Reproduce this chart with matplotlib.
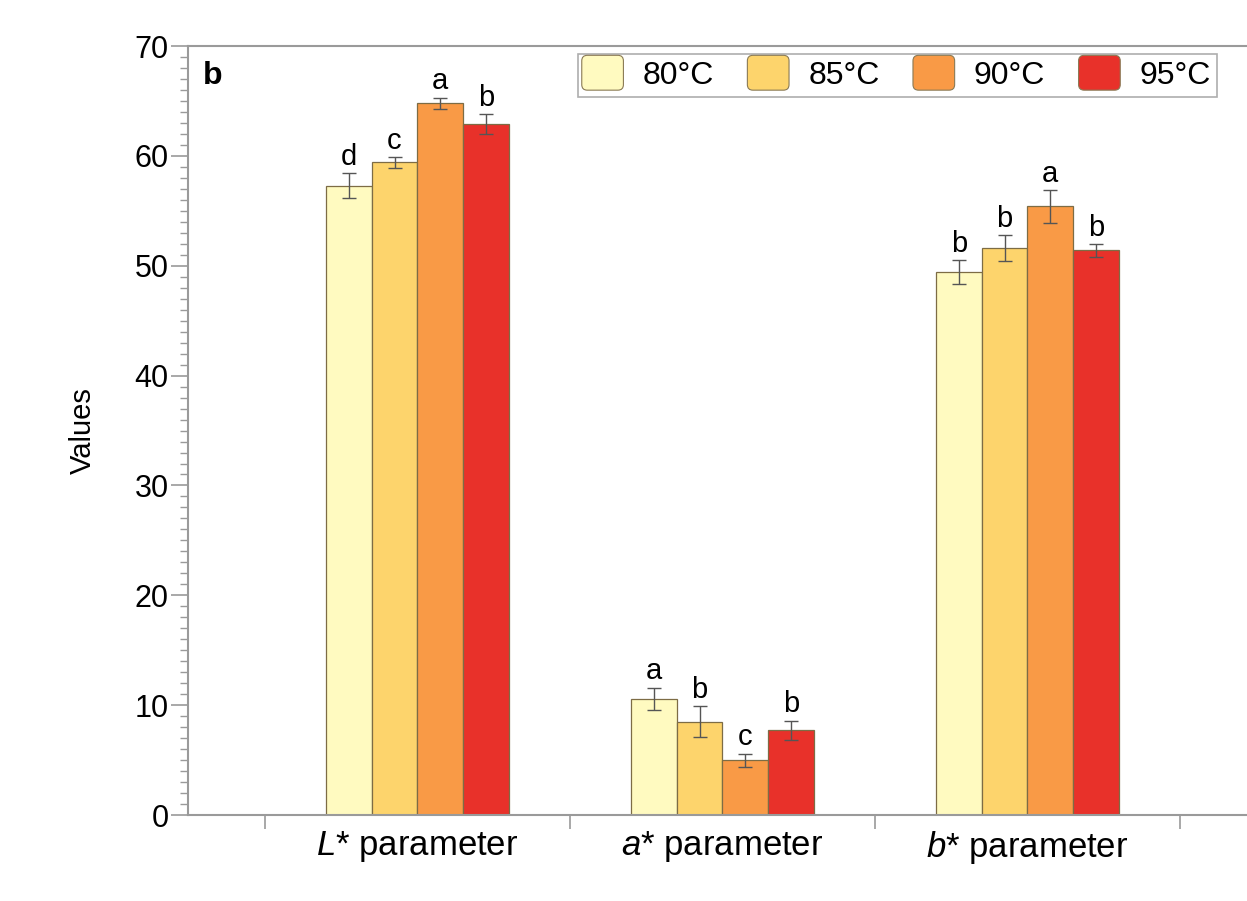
import matplotlib
matplotlib.use("Agg")
import matplotlib.pyplot as plt
import numpy as np
from matplotlib.patches import FancyBboxPatch, Patch
from matplotlib.legend_handler import HandlerPatch
from matplotlib.ticker import MultipleLocator, FixedLocator

plt.rcParams['font.family'] = ['Liberation Sans', 'DejaVu Sans']
plt.rcParams['mathtext.fontset'] = 'custom'
plt.rcParams['mathtext.rm'] = 'Liberation Sans'
plt.rcParams['mathtext.it'] = 'Liberation Sans:italic'

# data
categories = [r"$L$* parameter", r"$a$* parameter", r"$b$* parameter"]
temps = ["80°C", "85°C", "90°C", "95°C"]
values = {
    "80°C": [57.3, 10.6, 49.4],
    "85°C": [59.4, 8.5, 51.6],
    "90°C": [64.8, 5.0, 55.4],
    "95°C": [62.9, 7.7, 51.4],
}
errors = {
    "80°C": [1.1, 1.0, 1.1],
    "85°C": [0.5, 1.4, 1.2],
    "90°C": [0.5, 0.6, 1.5],
    "95°C": [0.9, 0.9, 0.6],
}
letters = {
    "80°C": ["d", "a", "b"],
    "85°C": ["c", "b", "b"],
    "90°C": ["a", "c", "a"],
    "95°C": ["b", "b", "b"],
}
colors = ["#FFFAC0", "#FDD46C", "#F99A46", "#E8312A"]
edge = "#7d6c45"
grey = "#9a9a9a"


class RoundHandler(HandlerPatch):
    # rounded square swatch, pushed to the right end of the handle box
    def create_artists(self, legend, orig_handle, xdescent, ydescent,
                       width, height, fontsize, trans):
        p = FancyBboxPatch((-xdescent + width - 30, -ydescent - 3), 30, height + 6,
                           boxstyle="round,pad=0,rounding_size=4",
                           facecolor=orig_handle.get_facecolor(),
                           edgecolor="#8a7a55", linewidth=0.8, transform=trans)
        return [p]


fig = plt.figure(figsize=(12.47, 9.01), dpi=100)
ax = fig.add_axes([0.1508, 0.0954, 0.8492, 0.8535])

x = np.arange(len(categories))
w = 0.15
for i, t in enumerate(temps):
    pos = x + (i - 1.5) * w
    ax.bar(pos, values[t], w, color=colors[i], edgecolor=edge, linewidth=0.9,
           label=t, zorder=2)
    ax.errorbar(pos, values[t], yerr=errors[t], fmt="none", ecolor="#555555",
                elinewidth=1.0, capsize=5, capthick=1.0, zorder=3)
    for p, v, e, s in zip(pos, values[t], errors[t], letters[t]):
        ax.text(p, v + e + 0.2, s, ha="center", va="bottom", fontsize=21)

ax.set_xlim(-0.752, 2.72)
ax.set_ylim(0, 70)

ax.xaxis.set_major_locator(FixedLocator([-0.5, 0.5, 1.5, 2.5]))
ax.xaxis.set_minor_locator(FixedLocator(x))
ax.set_xticklabels([], minor=False)
ax.set_xticklabels(categories, minor=True, fontsize=25)
ax.tick_params(axis="x", which="major", length=10, width=1.2, color=grey, direction="out")
ax.tick_params(axis="x", which="minor", length=0, pad=10)

ax.yaxis.set_major_locator(MultipleLocator(10))
ax.yaxis.set_minor_locator(MultipleLocator(1))
ax.tick_params(axis="y", which="major", length=12, width=1.2, color=grey, labelsize=22, pad=2)
ax.tick_params(axis="y", which="minor", length=6, width=1.0, color=grey)

for side in ["left", "bottom", "top"]:
    ax.spines[side].set_color(grey)
    ax.spines[side].set_linewidth(1.5)
ax.spines["right"].set_visible(False)

ax.set_ylabel("Values", fontsize=21, labelpad=27)
ax.text(0.014, 0.98, "b", transform=ax.transAxes, fontsize=23, fontweight="bold",
        ha="left", va="top")

handles = [Patch(facecolor=c) for c in colors]
leg = ax.legend(handles, temps, handler_map={Patch: RoundHandler()},
                loc="upper left", bbox_to_anchor=(0.368, 0.99), ncol=4,
                fontsize=23, frameon=True, fancybox=False, handlelength=1.25,
                handleheight=0.9, handletextpad=0.6, columnspacing=1.1,
                borderpad=0.18, borderaxespad=0)
leg.get_frame().set_edgecolor(grey)
leg.get_frame().set_linewidth(1.2)

fig.savefig("out.png", dpi=100, facecolor="white")
